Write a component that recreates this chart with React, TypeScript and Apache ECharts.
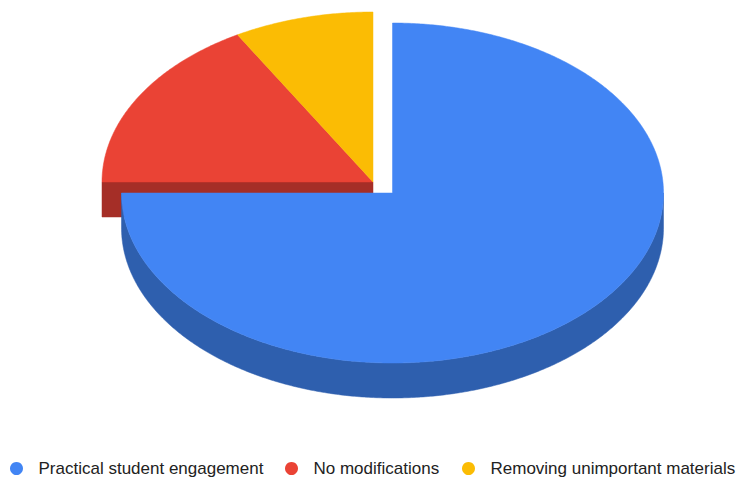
import React, { useEffect, useRef } from "react";
import * as echarts from "echarts";

const categories = [
  "Practical student engagement",
  "No modifications",
  "Removing unimportant materials",
];
const values = [9, 2, 1];

const topColors = ["#4285F4", "#EA4335", "#FBBC04"];
const sideColors = ["#2E5FAE", "#A52E27", "#B68A03"];

// geometry of the 3D pie (pixels)
const CX = 373;
const CY = 182;
const RX = 271;
const RY = 170;
const DEPTH = 35;
const EXPLODE: number[][] = [
  [19.5, 11],
  [0, 0],
  [0, 0],
];
// legend entry left positions (pixels)
const LEGEND_LEFT = [10, 285, 462];

const isExploded = (i: number) => EXPLODE[i][0] !== 0 || EXPLODE[i][1] !== 0;

function makeRenderItem(i: number) {
  return (params: any, api: any) => {
    const v = api.value(0);
    const start = api.value(1);
    const total = api.value(2);
    const a0 = (start / total) * 360;
    const a1 = ((start + v) / total) * 360;
    const n = categories.length;
    const prevIdx = (i - 1 + n) % n;
    const nextIdx = (i + 1) % n;
    const ox = CX + EXPLODE[i][0];
    const oy = CY + EXPLODE[i][1];
    const rad = (d: number) => (d * Math.PI) / 180;
    const pt = (deg: number, dy: number) => [
      ox + RX * Math.sin(rad(deg)),
      oy - RY * Math.cos(rad(deg)) + dy,
    ];
    const arc = (from: number, to: number, dy: number) => {
      const m = Math.max(2, Math.ceil(Math.abs(to - from) / 0.5));
      const pts: number[][] = [];
      for (let k = 0; k <= m; k++) pts.push(pt(from + ((to - from) * k) / m, dy));
      return pts;
    };
    const sideStyle = { fill: sideColors[i], stroke: sideColors[i], lineWidth: 0.5 };
    const children: any[] = [];
    // radial walls (only where the cut is exposed)
    const exposedStart = isExploded(i) || isExploded(prevIdx);
    const exposedEnd = isExploded(i) || isExploded(nextIdx);
    if (exposedStart && Math.sin(rad(a0)) < -1e-6) {
      const p = pt(a0, 0);
      children.push({
        type: "polygon",
        shape: { points: [[ox, oy], p, [p[0], p[1] + DEPTH], [ox, oy + DEPTH]] },
        style: sideStyle,
      });
    }
    if (exposedEnd && Math.sin(rad(a1)) > 1e-6) {
      const p = pt(a1, 0);
      children.push({
        type: "polygon",
        shape: { points: [[ox, oy], p, [p[0], p[1] + DEPTH], [ox, oy + DEPTH]] },
        style: sideStyle,
      });
    }
    // outer side wall (front half only)
    const lo = Math.max(a0, 90);
    const hi = Math.min(a1, 270);
    if (hi > lo) {
      const pts = arc(lo, hi, 0).concat(arc(hi, lo, DEPTH));
      children.push({ type: "polygon", shape: { points: pts }, style: sideStyle });
    }
    // top face
    children.push({
      type: "polygon",
      shape: { points: [[ox, oy]].concat(arc(a0, a1, 0)) },
      style: { fill: topColors[i], stroke: topColors[i], lineWidth: 0.5 },
    });
    return { type: "group", children };
  };
}

export default function App() {
  const ref = useRef<HTMLDivElement>(null);
  useEffect(() => {
    if (!ref.current) return;
    const chart = echarts.init(ref.current, undefined, { renderer: "svg" });
    const total = values.reduce((a, b) => a + b, 0);
    const prefix: number[] = [];
    let acc = 0;
    values.forEach((v) => {
      prefix.push(acc);
      acc += v;
    });
    chart.setOption({
      animation: false,
      backgroundColor: "#ffffff",
      legend: categories.map((name, i) => ({
        data: [name],
        left: LEGEND_LEFT[i],
        top: 460,
        orient: "horizontal",
        icon: "circle",
        itemWidth: 34,
        itemHeight: 13,
        padding: 0,
        selectedMode: false,
        textStyle: {
          fontFamily: "Arial, 'Liberation Sans', sans-serif",
          fontSize: 17,
          lineHeight: 16,
          color: "#222222",
        },
      })),
      series: categories.map((name, i) => ({
        type: "custom",
        name,
        coordinateSystem: "none",
        z: isExploded(i) ? 3 : 2,
        itemStyle: { color: topColors[i] },
        renderItem: makeRenderItem(i),
        data: [[values[i], prefix[i], total]],
      })),
    });
    return () => chart.dispose();
  }, []);
  return (
    <div
      ref={ref}
      style={{ position: "fixed", left: 0, top: 0, width: 736, height: 477 }}
    />
  );
}
